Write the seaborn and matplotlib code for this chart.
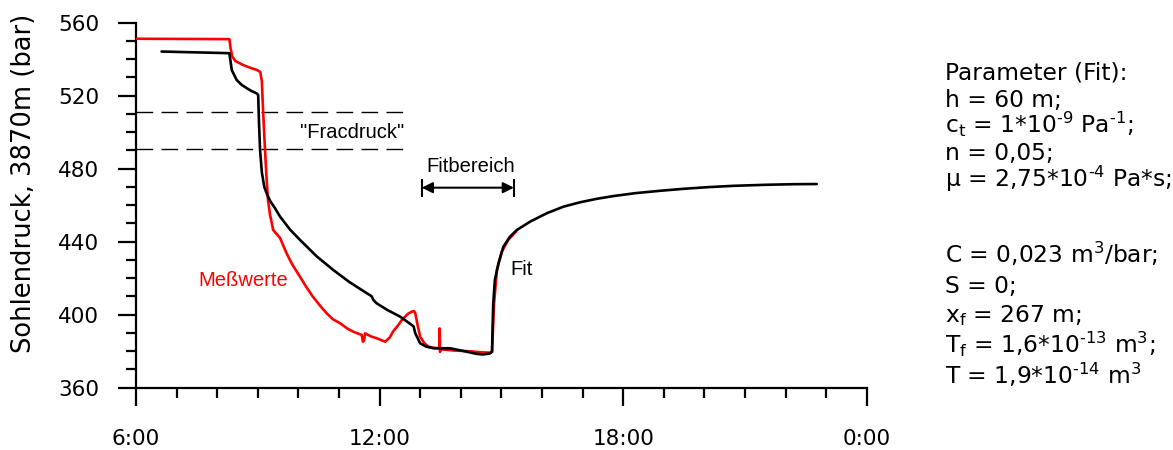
import matplotlib
matplotlib.use("Agg")
import matplotlib.pyplot as plt
import seaborn as sns
import pandas as pd

# Measured bottom-hole pressure (hours of day, bar)
meas_h = [6.00, 8.30, 8.33, 8.37, 8.45, 8.64, 8.85, 8.98, 9.06, 9.10,
          9.13, 9.17, 9.21, 9.25, 9.30, 9.38, 9.55, 9.71, 9.85, 10.04,
          10.20, 10.36, 10.55, 10.70, 10.85, 11.03, 11.20, 11.35, 11.56, 11.59,
          11.62, 11.64, 11.80, 11.93, 12.05, 12.14, 12.25, 12.33, 12.45, 12.55,
          12.70, 12.79, 12.85, 12.88, 12.94, 13.00, 13.10, 13.20, 13.35, 13.47,
          13.48, 13.49, 13.50, 13.52, 13.70, 13.81, 14.20, 14.50, 14.72, 14.77,
          14.82, 14.89, 15.01, 15.17, 15.36]
meas_p = [551.2, 551.0, 546.0, 541.5, 539.0, 536.8, 535.0, 534.1, 533.0, 528.0,
          512.0, 494.0, 477.0, 463.0, 455.0, 446.4, 442.0, 433.6, 427.5, 420.8,
          415.0, 409.8, 404.5, 400.7, 397.5, 395.3, 392.5, 390.7, 388.9, 385.2,
          386.0, 389.8, 388.0, 387.1, 386.0, 385.2, 387.5, 390.7, 394.0, 397.1,
          400.5, 401.6, 402.0, 400.8, 394.0, 387.9, 384.5, 382.5, 381.8, 381.6,
          392.5, 379.6, 381.2, 381.0, 380.7, 380.4, 380.0, 379.4, 379.2, 379.7,
          406.0, 424.5, 434.5, 441.0, 445.5]

# Fitted model curve
fit_h = [6.63, 8.30, 8.36, 8.48, 8.60, 8.73, 8.85, 8.97, 9.01, 9.03,
         9.056, 9.10, 9.16, 9.22, 9.30, 9.42, 9.55, 9.80, 10.04, 10.45,
         10.86, 11.25, 11.69, 11.78, 11.81, 11.85, 11.93, 12.20, 12.51, 12.79,
         12.84, 12.88, 13.00, 13.15, 13.33, 13.74, 14.15, 14.40, 14.55, 14.72,
         14.77, 14.80, 14.84, 14.93, 15.05, 15.21, 15.38, 15.71, 16.12, 16.53,
         16.94, 17.35, 17.76, 18.30, 18.91, 19.50, 20.10, 20.70, 21.54, 22.20,
         22.77]
fit_p = [544.2, 543.3, 534.0, 528.6, 526.0, 524.1, 522.5, 521.3, 520.4, 505.0,
         490.3, 478.0, 470.0, 466.5, 462.5, 458.5, 453.7, 446.5, 441.0, 432.0,
         424.5, 418.0, 411.7, 410.5, 409.9, 408.0, 406.2, 402.5, 398.9, 394.4,
         393.5, 389.8, 384.3, 382.5, 381.6, 381.6, 379.7, 378.5, 378.2, 378.8,
         379.7, 406.2, 419.0, 428.2, 437.3, 442.7, 446.4, 451.0, 455.6, 459.2,
         461.6, 463.5, 465.0, 466.6, 467.9, 469.0, 469.9, 470.6, 471.2, 471.5,
         471.6]

frac_levels = [491, 511]          # fracture pressure band (bar)
frac_end = 12.58                  # end of band (h)
fit_range = [13.04, 15.31]        # fitted interval (h)
fit_range_level = 469.6

x_ticks = [6, 12, 18, 24]
x_labels = ["6:00", "12:00", "18:00", "0:00"]
y_ticks = [360, 400, 440, 480, 520, 560]

HY = "\u2010"  # short hyphen for exponents
params_a = [
    "Parameter (Fit):",
    "h = 60 m;",
    r"c$_\mathregular{t}$ = 1*10$^\mathregular{" + HY + r"9}$ Pa$^\mathregular{" + HY + r"1}$;",
    "n = 0,05;",
    r"μ = 2,75*10$^\mathregular{" + HY + r"4}$ Pa*s;",
]
params_b = [
    r"C = 0,023 m$^\mathregular{3}$/bar;",
    "S = 0;",
    r"x$_\mathregular{f}$ = 267 m;",
    r"T$_\mathregular{f}$ = 1,6*10$^\mathregular{" + HY + r"13}$ m$^\mathregular{3}$;",
    r"T = 1,9*10$^\mathregular{" + HY + r"14}$ m$^\mathregular{3}$",
]

sns.set_theme(style="ticks")
plt.rcParams["font.family"] = ["DejaVu Sans"]
plt.rcParams["mathtext.default"] = "regular"

W, H = 1173, 450
fig = plt.figure(figsize=(W / 100, H / 100), dpi=100)
ax = fig.add_axes([136 / W, 1 - 387.7 / H, (866.7 - 136) / W, (387.7 - 22.7) / H])

df_meas = pd.DataFrame({"t": meas_h, "p": meas_p})
df_fit = pd.DataFrame({"t": fit_h, "p": fit_p})
sns.lineplot(data=df_meas, x="t", y="p", color="#ff0000", lw=1.9,
             estimator=None, sort=False, ax=ax, zorder=3)
sns.lineplot(data=df_fit, x="t", y="p", color="black", lw=1.9,
             estimator=None, sort=False, ax=ax, zorder=4)

for lvl in frac_levels:
    ax.plot([6, frac_end], [lvl, lvl], color="black", lw=1.0,
            linestyle=(0, (12, 6)), zorder=2)

ax.annotate("", xy=(fit_range[0], fit_range_level),
            xytext=(fit_range[1], fit_range_level),
            arrowprops=dict(arrowstyle="<|-|>", color="black", lw=1.5,
                            shrinkA=0, shrinkB=0, mutation_scale=16))
ax.vlines(fit_range, fit_range_level - 5, fit_range_level + 5,
          color="black", lw=1.5)

ann_font = ["Liberation Sans", "DejaVu Sans"]
ax.text(7.53, 415.7, "Meßwerte", color="#ff0000", fontsize=14.5,
        family=ann_font, ha="left", va="baseline")
ax.text(15.22, 421.8, "Fit", color="black", fontsize=14.5,
        family=ann_font, ha="left", va="baseline")
ax.text(13.16, 478.4, "Fitbereich", color="black", fontsize=14.5,
        family=ann_font, ha="left", va="baseline")
ax.text(10.04, 496.7, '"Fracdruck"', color="black", fontsize=14.5,
        family=ann_font, ha="left", va="baseline")

ax.set_xlim(6, 24)
ax.set_ylim(360, 560)
ax.set_xticks(x_ticks)
ax.set_xticklabels(x_labels)
ax.set_xticks(range(6, 25), minor=True)
ax.set_yticks(y_ticks)
ax.set_yticks(range(360, 561, 10), minor=True)
ax.set_xlabel("")
ax.set_ylabel("Sohlendruck, 3870m (bar)", fontsize=18.5, color="black")
ax.yaxis.set_label_coords(-0.136, 0.561)

for s in ["top", "right"]:
    ax.spines[s].set_visible(False)
for s in ["left", "bottom"]:
    ax.spines[s].set_linewidth(1.6)
    ax.spines[s].set_color("black")

ax.tick_params(axis="both", which="major", direction="out", length=13,
               width=1.6, color="black", labelsize=15.5, labelcolor="black")
ax.tick_params(axis="both", which="minor", direction="out", length=7.5,
               width=1.6, color="black")
ax.tick_params(axis="x", which="major", pad=16.5)
ax.tick_params(axis="y", which="major", pad=13.5)

base_a = [79.3, 106.7, 133.3, 160.0, 186.7]
base_b = [263.3, 293.3, 321.7, 353.3, 384.0]
for txt, yb in zip(params_a + params_b, base_a + base_b):
    fig.text(945 / W, 1 - yb / H, txt, fontsize=16.8, color="black",
             ha="left", va="baseline")

fig.savefig("out.png", dpi=100)
